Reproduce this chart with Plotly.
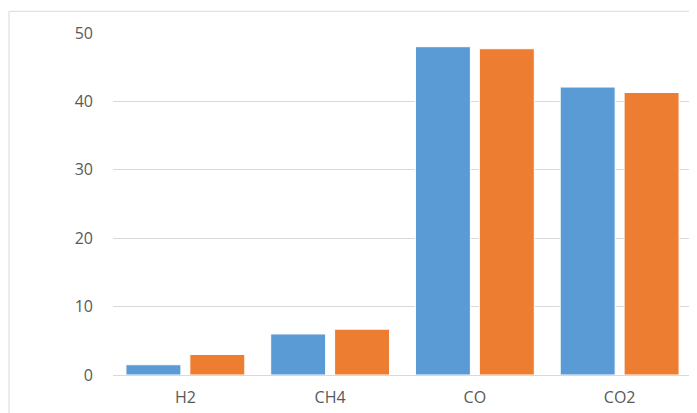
import plotly.graph_objects as go

categories = ["H2", "CH4", "CO", "CO2"]
series1 = [1.5, 6.0, 48.0, 42.1]
series2 = [3.0, 6.7, 47.7, 41.3]
y_ticks = [0, 10, 20, 30, 40, 50]

# page body offset of 8px is compensated for
OFF = 8
W, H = 697, 413
L, R, T, B = 113 - OFF, 692 - OFF, 32.7 - OFF, 375 - OFF

fig = go.Figure()
fig.add_trace(go.Bar(x=categories, y=series1, marker=dict(color="#5B9BD5", line=dict(color="#FFFFFF", width=1))))
fig.add_trace(go.Bar(x=categories, y=series2, marker=dict(color="#ED7D31", line=dict(color="#FFFFFF", width=1))))

fig.update_layout(
    width=W, height=H,
    margin=dict(l=L, r=W - R, t=T, b=H - B, pad=0),
    paper_bgcolor="white", plot_bgcolor="white",
    barmode="group", bargap=0.117, bargroupgap=0.14,
    showlegend=False,
    font=dict(family="Open Sans, sans-serif", size=16, color="#595959"),
    xaxis=dict(showgrid=False, showline=True, linecolor="#D9D9D9", linewidth=1,
               ticks="", tickfont=dict(size=16, color="#595959"), ticklabelstandoff=8),
    yaxis=dict(range=[0, 50], tickvals=y_ticks, showgrid=True, gridcolor="#D9D9D9",
               gridwidth=1, zeroline=False, showline=False, ticks="",
               tickfont=dict(size=16, color="#595959"), ticklabelstandoff=19),
    shapes=[dict(type="rect", xref="paper", yref="paper",
                 x0=(1 - L) / (R - L), x1=(720 - L) / (R - L),
                 y0=(B - 430) / (B - T), y1=(B - (11 - OFF)) / (B - T),
                 line=dict(color="#D9D9D9", width=1), layer="below")],
)

fig.write_html("out.html")
